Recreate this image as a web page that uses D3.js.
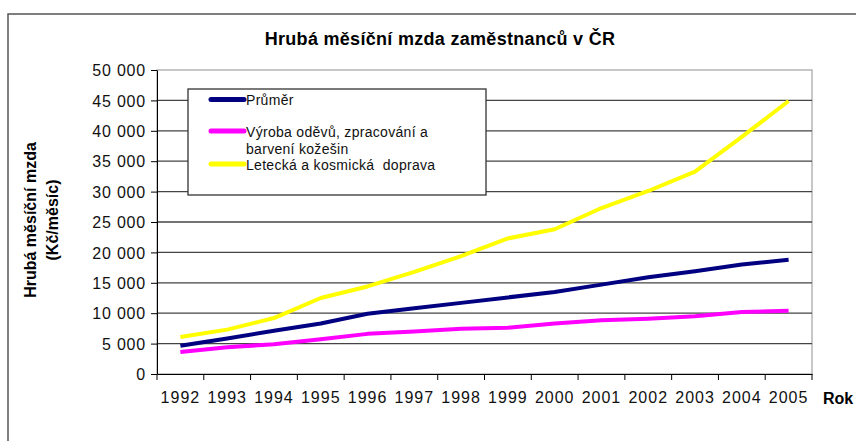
<!DOCTYPE html>
<html>
<head>
<meta charset="utf-8">
<script src="https://cdn.jsdelivr.net/npm/d3@7"></script>
<style>
  body { margin: 0; background: #fff; }
  svg { font-family: "Liberation Sans", Arial, sans-serif; }
  .grid line { stroke: #444; stroke-width: 1.3; }
  .axis path, .axis line { stroke: #000; }
  .axis text { font-size: 16px; letter-spacing: 1px; fill: #111; font-family: "Liberation Sans", Arial, sans-serif; }
  .legend text { font-size: 14px; fill: #111; white-space: pre; letter-spacing: 0.3px; }
</style>
</head>
<body>
<div id="chart"></div>
<script>
const years = ['1992', '1993', '1994', '1995', '1996', '1997', '1998', '1999',
               '2000', '2001', '2002', '2003', '2004', '2005'];
const prumer = [4650, 5850, 7100, 8300, 9900, 10800, 11700, 12600,
                13500, 14700, 15900, 16900, 18000, 18800];
const odevy = [3600, 4400, 4900, 5700, 6600, 7000, 7450, 7600,
               8300, 8850, 9100, 9500, 10200, 10400];
const letecka = [6100, 7300, 9200, 12500, 14400, 16800, 19400, 22300,
                 23800, 27300, 30100, 33300, 39000, 44900];
const yTicks = [0, 5000, 10000, 15000, 20000, 25000, 30000, 35000, 40000, 45000, 50000];
const seriesNames = ['Průměr', 'Výroba oděvů, zpracování a\nbarvení kožešin', 'Letecká a kosmická  doprava'];
const seriesColors = ['#000080', '#ff00ff', '#ffff00'];

const width = 856, height = 441;
const margin = { top: 70, right: 44, bottom: 67, left: 157 };

const svg = d3.select('#chart').append('svg')
  .attr('width', width)
  .attr('height', height);

// Outer frame
svg.append('path')
  .attr('d', `M8,${height}V14H${width}`)
  .attr('fill', 'none')
  .attr('stroke', '#555')
  .attr('stroke-width', 1.5);

const x = d3.scaleBand()
  .domain(years)
  .range([margin.left, width - margin.right])
  .padding(0);
const y = d3.scaleLinear()
  .domain([0, 50000])
  .range([height - margin.bottom, margin.top]);

const locale = d3.formatLocale({ decimal: ',', thousands: ' ', grouping: [3], currency: ['', ''] });
const fmt = locale.format(',');

// Title
svg.append('text')
  .attr('x', 440)
  .attr('y', 45)
  .attr('text-anchor', 'middle')
  .style('font-size', '18px')
  .style('font-weight', 'bold')
  .style('letter-spacing', '0.3px')
  .text('Hrubá měsíční mzda zaměstnanců v ČR');

// Plot border (light)
svg.append('rect')
  .attr('x', x.range()[0])
  .attr('y', y(50000))
  .attr('width', x.range()[1] - x.range()[0])
  .attr('height', y(0) - y(50000))
  .attr('fill', 'none')
  .attr('stroke', '#aaa')
  .attr('stroke-width', 1.3);

// Gridlines
svg.append('g')
  .attr('class', 'grid')
  .selectAll('line')
  .data(yTicks.filter(d => d > 0 && d < 50000))
  .enter().append('line')
  .attr('x1', x.range()[0])
  .attr('x2', x.range()[1])
  .attr('y1', d => y(d))
  .attr('y2', d => y(d));

// Y axis
const yAxis = svg.append('g')
  .attr('class', 'axis')
  .attr('transform', `translate(${margin.left},0)`)
  .call(d3.axisLeft(y).tickValues(yTicks).tickFormat(fmt).tickSize(6).tickPadding(5).tickSizeOuter(0));
yAxis.selectAll('text').attr('dy', '0.35em').style('letter-spacing', '0.8px');

// X axis: labels centred in bands, ticks on band boundaries
const xAxis = svg.append('g')
  .attr('class', 'axis')
  .attr('transform', `translate(0,${y(0)})`)
  .call(d3.axisBottom(x).tickSize(0).tickPadding(18).tickSizeOuter(0));
xAxis.selectAll('.tick line').remove();
xAxis.selectAll('.boundary')
  .data(years.map(d => x(d)).concat([x.range()[1]]))
  .enter().append('line')
  .attr('class', 'boundary')
  .attr('x1', d => d).attr('x2', d => d)
  .attr('y1', 0).attr('y2', 6)
  .attr('stroke', '#000');

svg.append('text')
  .attr('x', 823)
  .attr('y', 404)
  .style('font-size', '16px')
  .style('font-weight', 'bold')
  .text('Rok');

// Y axis title
const yTitle = svg.append('text')
  .attr('transform', 'translate(30,220) rotate(-90)')
  .attr('text-anchor', 'middle')
  .style('font-size', '16px')
  .style('font-weight', 'bold');
yTitle.append('tspan').attr('x', 0).attr('dy', '0.35em').text('Hrubá měsíční mzda');
yTitle.append('tspan').attr('x', 0).attr('dy', '1.4em').text('(Kč/měsíc)');

// Lines
const line = d3.line()
  .x((d, i) => x(years[i]) + x.bandwidth() / 2)
  .y(d => y(d));

[prumer, odevy, letecka].forEach((values, i) => {
  svg.append('path')
    .datum(values)
    .attr('fill', 'none')
    .attr('stroke', seriesColors[i])
    .attr('stroke-width', 4)
    .attr('stroke-linejoin', 'round')
    .attr('d', line);
});

// Legend
const legend = svg.append('g').attr('class', 'legend');
legend.append('rect')
  .attr('x', 188).attr('y', 89)
  .attr('width', 298).attr('height', 106)
  .attr('fill', '#fff')
  .attr('stroke', '#333')
  .attr('stroke-width', 1.3);

const swatchY = [99.5, 131, 164];
const textY = [105, 137, 170];
seriesNames.forEach((name, i) => {
  legend.append('line')
    .attr('x1', 211).attr('x2', 244)
    .attr('y1', swatchY[i]).attr('y2', swatchY[i])
    .attr('stroke', seriesColors[i])
    .attr('stroke-width', 5)
    .attr('stroke-linecap', 'round');
  const t = legend.append('text').attr('x', 246).attr('y', textY[i]);
  name.split('\n').forEach((part, j) => {
    t.append('tspan').attr('x', 246).attr('dy', j === 0 ? 0 : 16.5).text(part);
  });
});
</script>
</body>
</html>
